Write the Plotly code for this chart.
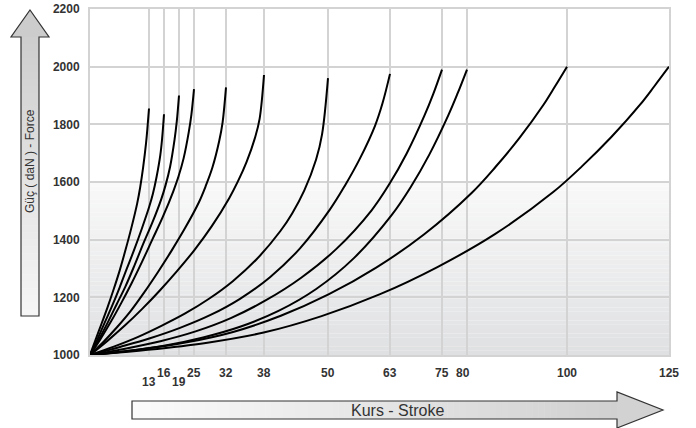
import plotly.graph_objects as go

# ---------------- data ----------------
strokes = [13, 16, 19, 25, 32, 38, 50, 63, 75, 80, 100, 125]
stroke_labels = ["13", "16", "19", "25", "32", "38", "50", "63", "75", "80", "100", "125"]
# fraction of each curve's stroke where the forces were read
t_samples = [0, 0.1, 0.2, 0.3, 0.4, 0.5, 0.6, 0.7, 0.8, 0.85, 0.9, 0.95, 0.975, 1.0]
force_13 = [1000, 1056, 1111, 1167, 1227, 1291, 1363, 1440, 1526, 1581, 1650, 1735, 1791, 1855]
force_16 = [1000, 1054, 1113, 1171, 1234, 1301, 1367, 1438, 1514, 1559, 1618, 1693, 1752, 1835]
force_19 = [1000, 1054, 1113, 1176, 1239, 1311, 1387, 1459, 1540, 1590, 1653, 1747, 1810, 1900]
force_25 = [1000, 1055, 1115, 1180, 1249, 1323, 1401, 1479, 1567, 1618, 1682, 1774, 1834, 1922]
force_32 = [1000, 1046, 1097, 1153, 1218, 1288, 1362, 1441, 1529, 1585, 1650, 1742, 1807, 1928]
force_38 = [1000, 1049, 1102, 1160, 1223, 1291, 1364, 1447, 1544, 1602, 1670, 1757, 1820, 1971]
force_50 = [1000, 1029, 1062, 1101, 1144, 1195, 1256, 1332, 1430, 1492, 1570, 1678, 1765, 1960]
force_63 = [1000, 1028, 1058, 1094, 1138, 1195, 1270, 1370, 1505, 1588, 1682, 1795, 1873, 1975]
force_75 = [1000, 1022, 1048, 1082, 1128, 1190, 1268, 1368, 1502, 1592, 1700, 1830, 1905, 1990]
force_80 = [1000, 1014, 1033, 1061, 1099, 1153, 1229, 1336, 1485, 1581, 1695, 1830, 1907, 1990]
force_100 = [1000, 1018, 1043, 1080, 1136, 1210, 1303, 1418, 1562, 1652, 1752, 1866, 1932, 2000]
force_125 = [1000, 1018, 1042, 1078, 1135, 1210, 1305, 1420, 1565, 1655, 1755, 1868, 1933, 2000]
forces = [force_13, force_16, force_19, force_25, force_32, force_38,
          force_50, force_63, force_75, force_80, force_100, force_125]
y_ticks = [1000, 1200, 1400, 1600, 1800, 2000, 2200]

# ---------------- axis layout (non-uniform stroke scale of the drawing) ----------------
grid_pos = [59, 74, 89, 104, 136, 174, 238, 300, 352, 377, 477, 579]
X_MAX = 579

W, H = 696, 428
L, R, T, B = 90, 27, 9, 73
PW, PH = W - L - R, H - T - B


def px(x):
    return (x - L) / PW


def py(y):
    return (H - B - y) / PH


def stroke_to_axis(s):
    xs = [0] + strokes
    ps = [0] + grid_pos
    for i in range(1, len(xs)):
        if s <= xs[i]:
            a = (s - xs[i - 1]) / (xs[i] - xs[i - 1])
            return ps[i - 1] + a * (ps[i] - ps[i - 1])
    return ps[-1]


fig = go.Figure()
for s, f in zip(strokes, forces):
    end = stroke_to_axis(s)
    fig.add_trace(go.Scatter(
        x=[t * end for t in t_samples], y=f, mode="lines",
        line=dict(color="black", width=2, shape="spline", smoothing=1.0),
        hoverinfo="skip", showlegend=False))

shapes = []
# background gradient (white above 1600, grey toward the bottom)
n = 40
for i in range(n):
    y0 = 1000 + 600 * i / n
    y1 = 1000 + 600 * (i + 1) / n
    a = (i + 0.5) / n
    c0 = (223, 224, 226)
    c1 = (249, 249, 249)
    col = tuple(int(round(c0[k] + (c1[k] - c0[k]) * a)) for k in range(3))
    shapes.append(dict(type="rect", xref="x", yref="y", x0=0, x1=X_MAX, y0=y0, y1=y1,
                       fillcolor="rgb(%d,%d,%d)" % col, line=dict(width=0), layer="below"))

# vertical arrow (Force)
top, bot = 37, 316
for i in range(n):
    y0 = top + (bot - top) * i / n
    y1 = top + (bot - top) * (i + 1) / n + 0.5
    a = (i + 0.5) / n
    v = int(round(205 + (247 - 205) * a))
    shapes.append(dict(type="rect", xref="paper", yref="paper",
                       x0=px(21), x1=px(39), y0=py(y1), y1=py(y0),
                       fillcolor="rgb(%d,%d,%d)" % (v, v, v), line=dict(width=0)))
shapes.append(dict(type="path", xref="paper", yref="paper",
                   path="M %f,%f L %f,%f L %f,%f Z" % (px(11), py(37), px(30), py(10), px(49), py(37)),
                   fillcolor="rgb(204,204,204)", line=dict(width=0)))
shapes.append(dict(type="path", xref="paper", yref="paper",
                   path="M %f,%f L %f,%f L %f,%f L %f,%f L %f,%f L %f,%f L %f,%f Z" % (
                       px(21), py(316), px(21), py(37), px(11), py(37), px(30), py(10),
                       px(49), py(37), px(39), py(37), px(39), py(316)),
                   fillcolor="rgba(0,0,0,0)", line=dict(color="#333333", width=1.2)))

# horizontal arrow (Stroke)
left, right = 132, 617
for i in range(n * 2):
    x0 = left + (right - left) * i / (2 * n)
    x1 = left + (right - left) * (i + 1) / (2 * n) + 0.5
    a = (i + 0.5) / (2 * n)
    v = int(round(251 + (208 - 251) * a))
    shapes.append(dict(type="rect", xref="paper", yref="paper",
                       x0=px(x0), x1=px(x1), y0=py(419), y1=py(401),
                       fillcolor="rgb(%d,%d,%d)" % (v, v, v), line=dict(width=0)))
shapes.append(dict(type="path", xref="paper", yref="paper",
                   path="M %f,%f L %f,%f L %f,%f Z" % (px(617), py(392), px(663), py(410), px(617), py(428)),
                   fillcolor="rgb(210,210,210)", line=dict(width=0)))
shapes.append(dict(type="path", xref="paper", yref="paper",
                   path="M %f,%f L %f,%f L %f,%f L %f,%f L %f,%f L %f,%f L %f,%f Z" % (
                       px(132), py(401), px(617), py(401), px(617), py(392), px(663), py(410),
                       px(617), py(428), px(617), py(419), px(132), py(419)),
                   fillcolor="rgba(0,0,0,0)", line=dict(color="#333333", width=1.2)))

annotations = []
low = {"13", "19"}
for lab, gp in zip(stroke_labels, grid_pos):
    annotations.append(dict(
        x=gp, y=py(382 if lab in low else 373), xref="x", yref="paper",
        text="<b>%s</b>" % lab, showarrow=False, xanchor="center", yanchor="middle",
        xshift=-4 if lab == "80" else 0,
        font=dict(family="Arial", size=12, color="#333333")))
annotations.append(dict(x=px(30), y=py(161), xref="paper", yref="paper", text="Güç ( daN ) - Force",
                        showarrow=False, textangle=-90, xanchor="center", yanchor="middle",
                        font=dict(family="Arial", size=12, color="#333333")))
annotations.append(dict(x=px(397), y=py(410), xref="paper", yref="paper", text="Kurs - Stroke",
                        showarrow=False, xanchor="center", yanchor="middle",
                        font=dict(family="Arial", size=16, color="#333333")))

fig.update_layout(
    width=W, height=H, margin=dict(l=L, r=R, t=T, b=B, autoexpand=False),
    paper_bgcolor="white", plot_bgcolor="white",
    shapes=shapes, annotations=annotations, showlegend=False,
    xaxis=dict(range=[0, X_MAX], tickvals=grid_pos, showticklabels=False, ticks="",
               showgrid=True, gridcolor="#d3d3d3", gridwidth=2, zeroline=False, automargin=False,
               showline=True, linecolor="#d3d3d3", linewidth=2, mirror=True, fixedrange=True),
    yaxis=dict(range=[1000, 2200], tickvals=y_ticks, ticktext=["<b>%d</b>" % v for v in y_ticks],
               ticks="", ticklabelstandoff=6, automargin=False,
               tickfont=dict(family="Arial", size=12, color="#333333"),
               showgrid=True, gridcolor="#d3d3d3", gridwidth=2, zeroline=False,
               showline=True, linecolor="#d3d3d3", linewidth=2, mirror=True, fixedrange=True),
)
fig.write_html("out.html", config={"displayModeBar": False},
               post_script="document.body.style.margin='0px';document.body.style.overflow='hidden';")
